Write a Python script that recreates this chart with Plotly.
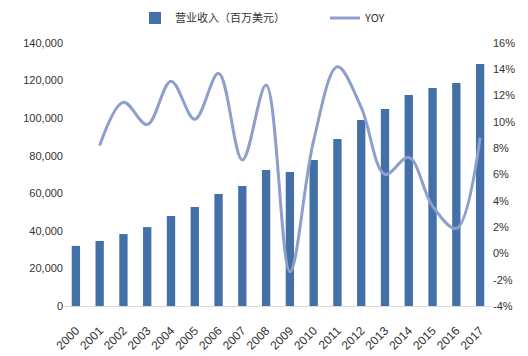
import plotly.graph_objects as go

years = [str(y) for y in range(2000, 2018)]
revenue = [32000, 34600, 38300, 42000, 47900, 52700, 59600, 63900, 72400,
           71300, 77700, 88900, 99000, 104900, 112300, 116000, 118700, 128800]
yoy_years = years[1:]
yoy = [8.2, 11.5, 9.8, 13.1, 10.2, 13.7, 7.1, 12.8, -1.4,
       8.6, 14.2, 11.1, 6.0, 7.3, 3.6, 1.9, 8.8]

left_ticks = [0, 20000, 40000, 60000, 80000, 100000, 120000, 140000]
left_text = ["0", "20,000", "40,000", "60,000", "80,000", "100,000", "120,000", "140,000"]
right_ticks = [-4, -2, 0, 2, 4, 6, 8, 10, 12, 14, 16]
right_text = [f"{v}%" for v in right_ticks]

fig = go.Figure()
fig.add_trace(go.Bar(x=years, y=revenue, name="营业收入（百万美元）", legend="legend",
                     marker=dict(color="#4470A8", line=dict(width=0))))
fig.add_trace(go.Scatter(x=yoy_years, y=yoy, name="YOY", yaxis="y2", mode="lines",
                         legend="legend2",
                         line=dict(color="#8E9FCB", width=3, shape="spline", smoothing=1.0)))

W, H = 520, 348  # page body has an 8px margin
font_family = "Liberation Sans, Arial, Noto Sans CJK SC, sans-serif"
leg_common = dict(orientation="h", xanchor="left", yanchor="middle",
                  xref="container", yref="container", y=1 - 10 / H,
                  font=dict(size=11, color="#333333", family="Noto Sans CJK SC, sans-serif"),
                  itemwidth=30, bgcolor="rgba(0,0,0,0)")
fig.update_layout(
    width=W, height=H,
    margin=dict(l=56, r=36, t=35, b=50, autoexpand=False),
    paper_bgcolor="white", plot_bgcolor="white",
    font=dict(family=font_family, size=11, color="#333333"),
    bargap=0.65,
    showlegend=True,
    legend=dict(x=127 / W, **leg_common),
    legend2=dict(x=317 / W, **leg_common),
    xaxis=dict(type="category", tickangle=-45, showgrid=False, showline=True,
               linecolor="#D9D9D9", linewidth=1, ticks="", tickfont=dict(size=12),
               ticklabelstandoff=12, automargin=False),
    yaxis=dict(range=[0, 140000], tickvals=left_ticks, ticktext=left_text,
               showgrid=False, zeroline=False, showline=False, ticks="",
               tickfont=dict(size=11), automargin=False),
    yaxis2=dict(range=[-4, 16], tickvals=right_ticks, ticktext=right_text,
                overlaying="y", side="right", showgrid=False, zeroline=False,
                showline=False, ticks="", tickfont=dict(size=11), automargin=False),
)

fig.write_html("out.html")
